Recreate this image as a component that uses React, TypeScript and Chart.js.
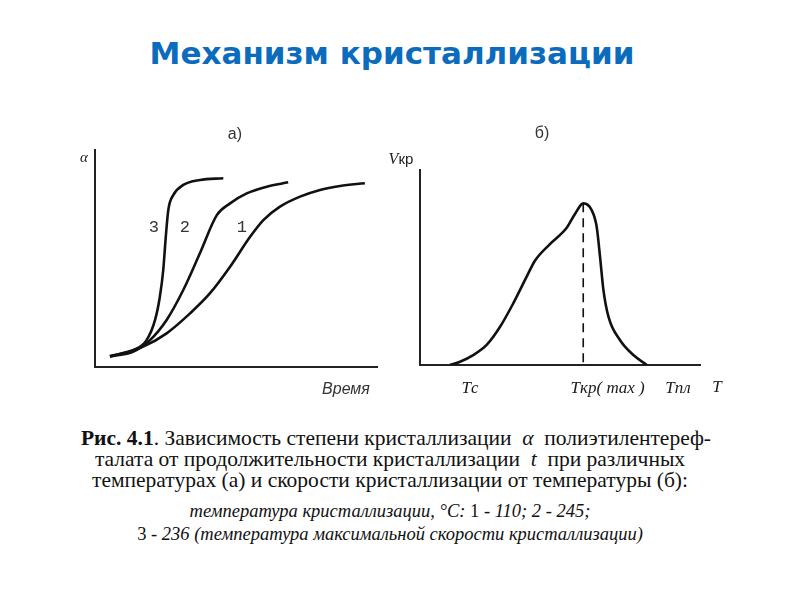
import React, { useEffect, useRef } from 'react';
import { Chart, registerables } from 'chart.js';

Chart.register(...registerables);

// ---------- data: chart а) degree of crystallization vs time ----------
const curve1X = [5.3, 17.1, 25.4, 33.7, 40.8, 47.9, 55.0, 59.7, 65.6, 72.7, 79.8, 86.9, 95.7];
const curve1Y = [4.8, 9.4, 15.5, 24.7, 34.0, 46.2, 60.0, 67.7, 73.9, 78.5, 81.6, 83.4, 84.7];

const curve2X = [5.3, 13.6, 19.5, 25.4, 31.3, 37.2, 43.2, 47.9, 53.8, 60.9, 68.5];
const curve2Y = [4.8, 7.1, 12.4, 21.7, 35.5, 52.4, 70.0, 75.4, 80.0, 83.1, 85.1];

const curve3X = [5.3, 13.6, 18.3, 21.3, 23.0, 24.2, 25.1, 26.0, 27.8, 31.3, 37.2, 45.5];
const curve3Y = [5.1, 7.8, 12.4, 21.7, 32.4, 44.7, 60.0, 72.4, 79.3, 83.9, 86.2, 87.0];

const curveNames = ['1', '2', '3'];

// ---------- data: chart б) crystallization rate vs temperature ----------
const rateX = [10.7, 14.3, 19.0, 23.8, 28.6, 33.3, 38.1, 41.1, 46.4, 52.4, 55.4, 58.3, 61.3, 63.1, 64.3, 65.5, 67.3, 71.4, 76.2, 81.0];
const rateY = [0.0, 1.7, 5.1, 10.3, 19.6, 31.6, 45.3, 53.6, 62.0, 70.4, 77.6, 82.9, 79.5, 70.9, 55.5, 38.5, 24.8, 12.8, 5.1, 0.0];

const peakX = [58.3, 58.3];
const peakY = [82.9, 0];

const bTickValues = [17.9, 67.0, 92.1];
const bTickLabels = ['Tс', 'Tкр( max )', 'Tпл'];

const toPoints = (xs: number[], ys: number[]) => xs.map((x, i) => ({ x, y: ys[i] }));

type Run = { text: string; font: string };
type Annot = { x: number; y: number; runs: Run[]; color?: string };

const annotPlugin = {
  id: 'annot',
  afterDraw(chart: any, _args: any, opts: any) {
    const { ctx, scales } = chart;
    const items: Annot[] = opts.items || [];
    for (const a of items) {
      const px = scales.x.getPixelForValue(a.x);
      const py = scales.y.getPixelForValue(a.y);
      ctx.save();
      ctx.fillStyle = a.color || '#222';
      ctx.textBaseline = 'middle';
      ctx.textAlign = 'left';
      let total = 0;
      for (const r of a.runs) {
        ctx.font = r.font;
        total += ctx.measureText(r.text).width;
      }
      let cx = px - total / 2;
      for (const r of a.runs) {
        ctx.font = r.font;
        ctx.fillText(r.text, cx, py);
        cx += ctx.measureText(r.text).width;
      }
      ctx.restore();
    }
  },
};

const axisColor = '#222';
const lineColor = '#111';

const baseScale = (min: number, max: number, isX: boolean, size = 0) => ({
  type: 'linear' as const,
  min,
  max,
  grid: { display: false, drawTicks: false },
  border: { display: true, color: axisColor, width: 2 },
  ticks: { display: false },
  afterFit: (s: any) => {
    if (isX) s.height = size;
    else s.width = size;
  },
});

const lineDs = (data: any[], extra: any = {}) => ({
  data,
  showLine: true,
  borderColor: lineColor,
  borderWidth: 2.6,
  pointRadius: 0,
  cubicInterpolationMode: 'monotone',
  fill: false,
  ...extra,
});

const sans = '"Liberation Sans", Arial, sans-serif';
const serif = '"Liberation Serif", "Times New Roman", serif';
const mono = '"Liberation Mono", "Courier New", monospace';

function ChartA() {
  const ref = useRef<HTMLCanvasElement>(null);
  useEffect(() => {
    if (!ref.current) return;
    const series = [
      toPoints(curve1X, curve1Y),
      toPoints(curve2X, curve2Y),
      toPoints(curve3X, curve3Y),
    ];
    const chart = new Chart(ref.current, {
      type: 'scatter',
      data: {
        datasets: series.map((d, i) => ({ label: curveNames[i], ...lineDs(d) })) as any,
      },
      options: {
        animation: false,
        responsive: false,
        events: [],
        layout: { autoPadding: false, padding: { left: 45, right: 23, top: 40, bottom: 43 } },
        scales: {
          x: baseScale(0, 100, true),
          y: baseScale(0, 100, false),
        } as any,
        plugins: {
          legend: { display: false },
          tooltip: { enabled: false },
          annot: {
            items: [
              { x: 49.6, y: 106.9, runs: [{ text: 'а)', font: `16px ${sans}` }], color: '#333' },
              { x: -3.9, y: 96.3, runs: [{ text: 'α', font: `italic 15px ${serif}` }], color: '#222' },
              { x: 89.0, y: -10.6, runs: [{ text: 'Время', font: `italic 16px ${sans}` }], color: '#333' },
              { x: 20.9, y: 64.1, runs: [{ text: curveNames[2], font: `17px ${mono}` }], color: '#333' },
              { x: 31.9, y: 64.1, runs: [{ text: curveNames[1], font: `17px ${mono}` }], color: '#333' },
              { x: 52.1, y: 64.1, runs: [{ text: curveNames[0], font: `17px ${mono}` }], color: '#333' },
            ],
          },
        } as any,
      },
      plugins: [annotPlugin],
    });
    return () => chart.destroy();
  }, []);
  return (
    <canvas
      ref={ref}
      width={350}
      height={300}
      style={{ position: 'absolute', left: 50, top: 110, width: 350, height: 300 }}
    />
  );
}

function ChartB() {
  const ref = useRef<HTMLCanvasElement>(null);
  useEffect(() => {
    if (!ref.current) return;
    const xScale: any = {
      ...baseScale(0, 100, true, 40),
      ticks: {
        display: true,
        autoSkip: false,
        maxRotation: 0,
        padding: 13,
        color: '#1a1a1a',
        font: { family: serif, size: 17, style: 'italic' },
        callback: (_v: any, i: number) => bTickLabels[i],
      },
      afterBuildTicks: (s: any) => {
        s.ticks = bTickValues.map((v) => ({ value: v }));
      },
    };
    const chart = new Chart(ref.current, {
      type: 'scatter',
      data: {
        datasets: [
          { label: 'Vкр', ...lineDs(toPoints(rateX, rateY)) },
          {
            label: 'max',
            ...lineDs(toPoints(peakX, peakY), {
              borderWidth: 1.6,
              borderDash: [9, 6],
              cubicInterpolationMode: 'default',
              tension: 0,
            }),
          },
        ] as any,
      },
      options: {
        animation: false,
        responsive: false,
        events: [],
        layout: { autoPadding: false, padding: { left: 40, right: 40, top: 60, bottom: 5 } },
        scales: {
          x: xScale,
          y: baseScale(0, 100, false),
        } as any,
        plugins: {
          legend: { display: false },
          tooltip: { enabled: false },
          annot: {
            items: [
              { x: 43.6, y: 118.5, runs: [{ text: 'б)', font: `16px ${sans}` }], color: '#333' },
              {
                x: -6.8,
                y: 105.1,
                runs: [
                  { text: 'V', font: `italic 16px ${serif}` },
                  { text: 'кр', font: `15px ${sans}` },
                ],
                color: '#222',
              },
              { x: 106.1, y: -11.3, runs: [{ text: 'T', font: `italic 17px ${serif}` }], color: '#1a1a1a' },
            ],
          },
        } as any,
      },
      plugins: [annotPlugin],
    });
    return () => chart.destroy();
  }, []);
  return (
    <canvas
      ref={ref}
      width={360}
      height={300}
      style={{ position: 'absolute', left: 380, top: 110, width: 360, height: 300 }}
    />
  );
}

const capBase: React.CSSProperties = {
  position: 'absolute',
  left: 0,
  width: 780,
  textAlign: 'center',
  fontFamily: serif,
  color: '#111',
  lineHeight: 1,
  whiteSpace: 'nowrap',
};

export default function App() {
  useEffect(() => {
    document.body.style.margin = '0';
  }, []);
  return (
    <div
      style={{
        position: 'fixed',
        left: 0,
        top: 0,
        width: 800,
        height: 600,
        background: '#fff',
        overflow: 'hidden',
      }}
    >
      <div
        style={{
          position: 'absolute',
          left: 0,
          top: 38.3,
          width: 784,
          textAlign: 'center',
          fontFamily: '"DejaVu Sans", Verdana, sans-serif',
          fontWeight: 'bold',
          fontSize: 31,
          lineHeight: 1,
          color: '#0b6bbd',
          whiteSpace: 'nowrap',
        }}
      >
        Механизм кристаллизации
      </div>
      <ChartA />
      <ChartB />
      <div style={{ ...capBase, left: 6, top: 428, fontSize: 21.5 }}>
        <b>Рис. 4.1</b>. Зависимость степени кристаллизации&nbsp; <i>α</i>&nbsp; полиэтилентереф-
      </div>
      <div style={{ ...capBase, top: 449, fontSize: 21.5 }}>
        талата от продолжительности кристаллизации&nbsp; <i>t</i>&nbsp; при различных
      </div>
      <div style={{ ...capBase, top: 470, fontSize: 21.5 }}>
        температурах (а) и скорости кристаллизации от температуры (б):
      </div>
      <div style={{ ...capBase, top: 501.5, fontSize: 18.5 }}>
        <i>температура кристаллизации, °С:</i> 1 - <i>110; 2 - 245;</i>
      </div>
      <div style={{ ...capBase, top: 524.5, fontSize: 18.5 }}>
        3 - <i>236 (температура максимальной скорости кристаллизации)</i>
      </div>
    </div>
  );
}
